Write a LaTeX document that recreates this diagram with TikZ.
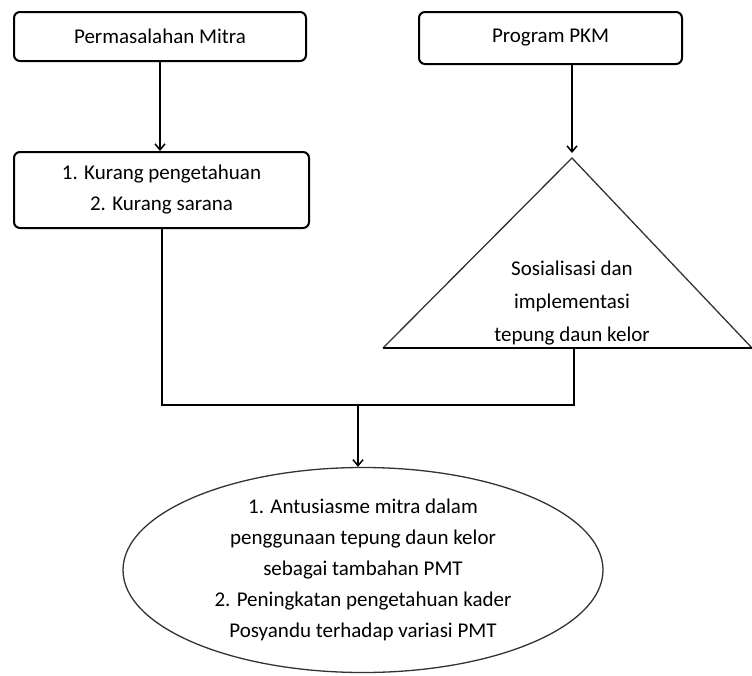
\documentclass[tikz,border=0pt]{standalone}
\usepackage{fontspec}
\setmainfont{Carlito}
\usetikzlibrary{arrows.meta,shapes.geometric}

\begin{document}
\begin{tikzpicture}[x=1pt,y=-1pt,
    kotak/.style={draw, line width=2pt, rounded corners=6pt, align=center},
    panah/.style={-{Straight Barb[length=6pt,width=10pt]}, line width=1.5pt},
    garis/.style={line width=2pt},
    teks/.style={font=\fontsize{21}{31}\selectfont}]
    \useasboundingbox (0,0) rectangle (752,675);
    \node[kotak, teks, minimum width=292pt, minimum height=49pt] (masalah) at (160,36.5) {Permasalahan Mitra};
    \node[kotak, teks, minimum width=295pt, minimum height=76pt] (kurang) at (161.5,190) {1. Kurang pengetahuan\\2. Kurang sarana};
    \node[kotak, teks, minimum width=263pt, minimum height=52pt] (pkm) at (550.5,38) {Program PKM};
    % segitiga
    \coordinate (puncak) at (572,158);
    \coordinate (kiri) at (383,348);
    \coordinate (kanan) at (752,348);
    \draw[line width=1.3pt, draw=black!80] (kiri) -- (puncak) -- (kanan);
    \draw[garis] (kiri) -- (kanan);
    \node[teks, align=center, font=\fontsize{21}{33}\selectfont] (sosial) at (572,303) {Sosialisasi dan\\implementasi\\tepung daun kelor};
    \node[draw=black!80, line width=1.3pt, ellipse, minimum width=480pt, minimum height=205pt, inner sep=0pt, align=center, teks] (hasil) at (363,570)
        {1. Antusiasme mitra dalam\\penggunaan tepung daun kelor\\sebagai tambahan PMT\\2. Peningkatan pengetahuan kader\\Posyandu terhadap variasi PMT};
    \coordinate (alas) at (574,348);
    \coordinate (temu) at (358,405);
    \coordinate (ujung) at (572,153);
    \draw[panah] (masalah.south) -- (masalah.south |- kurang.north);
    \draw[panah] (pkm.south -| ujung) -- (ujung);
    \draw[garis] (kurang.south) |- (temu) -| (alas);
    \draw[panah] (temu) -- (temu |- hasil.north);
\end{tikzpicture}
\end{document}
